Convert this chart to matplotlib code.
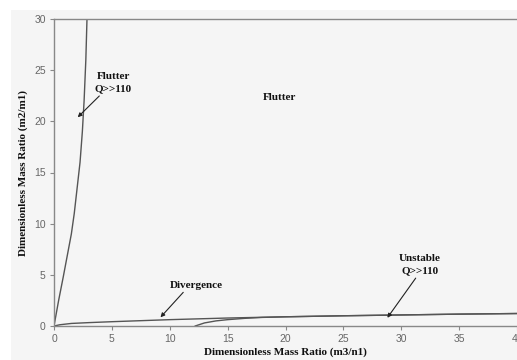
import matplotlib
matplotlib.use("Agg")
import matplotlib.pyplot as plt
from matplotlib.patches import Rectangle

# Flutter boundary (steep branch near the y-axis)
flutter_x = [0.0, 0.4, 0.8, 1.2, 1.5, 1.75, 2.0, 2.25, 2.45, 2.6, 2.75, 2.85]
flutter_y = [0.0, 2.5, 4.8, 7.2, 9.0, 11.0, 13.5, 16.0, 19.0, 22.0, 26.0, 30.0]

# Divergence boundary (low branch along the x-axis)
div_x = [0.0, 0.5, 1.5, 3.0, 5.0, 10.0, 15.0, 20.0, 25.0, 30.0, 35.0, 40.0]
div_y = [0.0, 0.12, 0.25, 0.33, 0.42, 0.62, 0.78, 0.9, 1.0, 1.08, 1.16, 1.22]

# Unstable boundary starting near m3/n1 = 12
uns_x = [12.2, 13.0, 14.0, 15.0, 16.5, 18.0, 20.0, 25.0, 30.0, 35.0, 40.0]
uns_y = [0.0, 0.3, 0.5, 0.62, 0.75, 0.84, 0.9, 1.0, 1.08, 1.16, 1.22]

x_ticks = [0, 5, 10, 15, 20, 25, 30, 35, 40]
y_ticks = [0, 5, 10, 15, 20, 25, 30]

W, H = 517, 360
fig = plt.figure(figsize=(W / 100, H / 100), dpi=100, facecolor="white")
bg = "#f5f5f5"
fig.patches.append(Rectangle((11 / W, 0), 1 - 11 / W, 1 - 10 / H,
                             transform=fig.transFigure, facecolor=bg,
                             edgecolor="none", zorder=-5))

ax = fig.add_axes([54 / W, (H - 326) / H, (517 - 54) / W, (326 - 19) / H])
ax.set_facecolor(bg)
ax.set_xlim(0, 40)
ax.set_ylim(0, 30)

line_kw = dict(color="#555555", lw=1.0)
ax.plot(flutter_x, flutter_y, **line_kw)
ax.plot(div_x, div_y, **line_kw)
ax.plot(uns_x, uns_y, **line_kw)

for s in ["left", "bottom", "top"]:
    ax.spines[s].set_color("#888888")
    ax.spines[s].set_linewidth(1.0)
ax.spines["right"].set_visible(False)

ax.set_xticks(x_ticks)
ax.set_yticks(y_ticks)
ax.tick_params(axis="both", direction="out", length=3, width=0.8,
               color="#888888", labelcolor="#666666", labelsize=7.5, pad=3)
for lab in ax.get_xticklabels() + ax.get_yticklabels():
    lab.set_family("Liberation Sans")

label_font = dict(family="Liberation Serif", weight="bold", size=8, color="#111111")
ax.set_xlabel("Dimensionless Mass Ratio (m3/n1)", labelpad=2, **label_font)
ax.set_ylabel("Dimensionless Mass Ratio (m2/m1)", labelpad=4, **label_font)

ann_font = dict(family="Liberation Serif", weight="bold", size=8, color="#111111",
                ha="center", va="center", linespacing=1.5)
arrow = dict(arrowstyle="-|>", color="#222222", lw=0.8, mutation_scale=6,
             shrinkA=0, shrinkB=0)

ax.annotate("Flutter\nQ>>110", xy=(2.05, 20.4), xytext=(5.1, 23.8),
            arrowprops=arrow, **ann_font)
ax.text(19.5, 22.3, "Flutter", **ann_font)
ax.annotate("Divergence", xy=(9.2, 0.85), xytext=(12.3, 4.0),
            arrowprops=dict(arrow, relpos=(0.3, 0.0)), **ann_font)
ax.annotate("Unstable\nQ>>110", xy=(28.8, 0.8), xytext=(31.6, 6.0),
            arrowprops=dict(arrow, relpos=(0.45, 0.0)), **ann_font)

fig.savefig("out.png", dpi=100, facecolor="white")
